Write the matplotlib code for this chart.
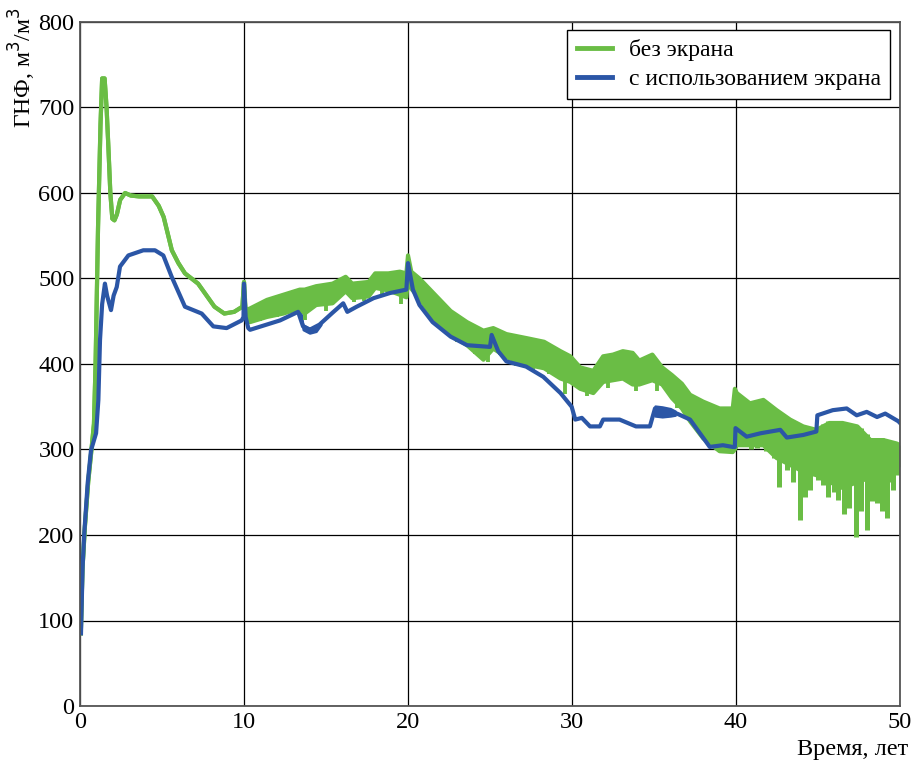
import matplotlib
matplotlib.use("Agg")
import matplotlib.pyplot as plt
from matplotlib.lines import Line2D

plt.rcParams['font.family'] = ['Liberation Serif', 'DejaVu Serif']

# --- Series without screen (green): upper / lower envelope of the oscillating curve ---
green_x = [0.05, 0.15, 0.3, 0.5, 0.7, 0.85, 0.95, 1.1, 1.25, 1.35, 1.5, 1.62, 1.73, 1.85, 1.97,
           2.1, 2.25, 2.45, 2.75, 3.1, 3.6, 4.4, 4.8, 5.1, 5.6, 6.0, 6.4, 7.2, 8.2, 8.8, 9.4,
           9.9, 10.0, 10.1, 10.37, 11.4, 12.4, 13.4, 13.7, 14.4, 15.4, 16.2, 16.6, 17.6, 18.0,
           18.8, 19.5, 19.9, 20.0, 20.2, 20.7, 21.5, 22.6, 23.6, 24.6, 25.2, 26.0, 27.3, 28.3,
           29.3, 29.9, 30.5, 31.3, 31.9, 32.5, 33.1, 33.7, 34.1, 34.9, 35.5, 36.1, 36.7, 37.2,
           38.0, 39.0, 39.8, 39.93, 40.05, 40.85, 41.67, 42.48, 43.3, 44.1, 44.9, 45.7, 46.5,
           47.4, 48.2, 49.0, 49.8, 50.0]
green_hi = [85, 160, 210, 262, 300, 330, 400, 560, 680, 734, 734, 700, 654, 600, 570,
            568, 575, 592, 600, 597, 596, 596, 585, 572, 533, 518, 506, 494, 467, 459, 461,
            467, 496, 463, 465, 475, 481, 487, 487, 491, 494, 502, 494, 496, 506,
            506, 508, 506, 527, 508, 500, 484, 462, 449, 439, 442, 435, 430, 426,
            415, 409, 396, 392, 409, 411, 415, 413, 404, 411, 396, 387, 377, 364,
            356, 348, 348, 371, 366, 354, 358, 346, 335, 327, 323, 331, 331,
            327, 311, 311, 307, 305]
green_lo = [85, 160, 210, 262, 300, 330, 400, 560, 680, 734, 734, 700, 654, 600, 570,
            568, 575, 592, 600, 597, 596, 596, 585, 572, 533, 518, 506, 494, 467, 459, 461,
            467, 496, 455, 449, 455, 459, 465, 459, 469, 471, 485, 477, 479, 489,
            486, 481, 478, 500, 488, 477, 455, 434, 422, 405, 418, 408, 399, 395,
            383, 379, 371, 366, 379, 381, 383, 376, 376, 381, 376, 360, 348, 333,
            313, 298, 297, 300, 305, 305, 305, 290, 282, 274, 270, 262, 255,
            262, 267, 270, 278, 280]

# short downward notches of the green curve (x, bottom, top)
notch_x = [11.0, 12.0, 13.7, 15.0, 16.7, 17.3, 18.4, 19.6, 21.8, 23.0, 24.1, 24.9, 25.6,
           26.6, 27.6, 28.6, 29.6, 30.9, 32.2, 33.9, 35.2, 36.4, 37.6]
notch_lo = [450, 455, 452, 462, 472, 474, 478, 470, 444, 426, 412, 402, 410,
            398, 392, 388, 365, 362, 372, 368, 368, 348, 322]
notch_hi = [470, 475, 480, 485, 488, 490, 500, 500, 470, 448, 435, 425, 430,
            425, 420, 415, 400, 385, 400, 405, 390, 372, 355]

# deep downward oscillations of the green curve after 40 years
spike_x = [40.4, 40.9, 41.3, 41.8, 42.3, 42.6, 43.1, 43.5, 43.9, 44.2, 44.5, 45.0, 45.3,
           45.6, 46.0, 46.2, 46.6, 46.9, 47.3, 47.6, 47.97, 48.3, 48.6, 48.9, 49.2, 49.4,
           49.6, 49.85]
spike_lo = [305, 300, 302, 298, 290, 256, 276, 262, 218, 245, 253, 264, 258,
            245, 250, 241, 225, 232, 198, 228, 206, 240, 237, 228, 220, 262,
            253, 270]
spike_hi = [360, 352, 356, 350, 345, 340, 335, 330, 328, 325, 322, 325, 330,
            333, 333, 333, 330, 330, 327, 325, 318, 313, 313, 313, 311, 310,
            309, 308]

# --- Series with screen (blue) ---
blue_x = [0.06, 0.16, 0.26, 0.47, 0.67, 0.98, 1.12, 1.22, 1.35, 1.52, 1.65, 1.89, 2.05,
          2.24, 2.44, 2.95, 3.86, 4.57, 5.08, 5.59, 6.4, 7.42, 8.13, 8.94, 9.86, 9.97,
          10.0, 10.1, 10.26, 10.37, 12.2, 13.3, 13.6, 14.0, 14.6, 15.4, 16.05, 16.3,
          16.87, 17.9, 18.9, 19.9, 20.0, 20.3, 20.7, 21.5, 22.6, 23.6, 25.0, 25.1, 25.5,
          26.0, 27.2, 28.25, 29.3, 29.98, 30.2, 30.6, 31.1, 31.7, 31.9, 32.9, 33.9, 34.75,
          35.06, 36.4, 37.2, 37.8, 38.4, 39.2, 39.8, 39.93, 39.97, 40.65, 41.5, 42.1, 42.7,
          43.1, 44.1, 44.9, 44.96, 45.9, 46.75, 47.36, 47.97, 48.6, 49.1, 49.9, 50.0]
blue_y = [85, 163, 202, 261, 299, 319, 358, 428, 470, 494, 480, 463, 480,
          490, 514, 527, 533, 533, 527, 502, 467, 459, 444, 442, 451, 455,
          494, 455, 442, 440, 451, 461, 444, 440, 446, 460, 471, 461,
          467, 477, 483, 487, 518, 487, 469, 449, 432, 422, 420, 434, 415,
          403, 397, 385, 366, 350, 335, 337, 327, 327, 335, 335, 327, 327,
          348, 342, 335, 319, 303, 305, 303, 303, 325, 315, 319, 321, 323,
          314, 317, 321, 340, 346, 348, 340, 344, 338, 342, 333, 331]

# noisy stretches of the blue curve
blue_band_x = [[13.45, 13.6, 14.0, 14.4, 14.7], [35.06, 35.5, 36.0, 36.3]]
blue_band_lo = [[458, 440, 436, 438, 446], [339, 338, 339, 340]]
blue_band_hi = [[462, 446, 442, 444, 448], [351, 350, 348, 345]]

x_ticks = [0, 10, 20, 30, 40, 50]
y_ticks = [0, 100, 200, 300, 400, 500, 600, 700, 800]
legend_labels = ["без экрана", "с использованием экрана"]

GREEN = "#6abd45"
BLUE = "#2b56a6"

fig = plt.figure(figsize=(9.13, 7.65), dpi=100)
ax = fig.add_axes([80 / 913, 59 / 765, 820 / 913, 684 / 765])

ax.set_xlim(0, 50)
ax.set_ylim(0, 800)
ax.set_xticks(x_ticks)
ax.set_yticks(y_ticks)
ax.grid(True, color="black", linewidth=0.9)
ax.set_axisbelow(True)
ax.tick_params(length=0, labelsize=17.5, pad=4)
for s in ax.spines.values():
    s.set_color("#555555")
    s.set_linewidth(1.3)

lw = 3.0
ax.fill_between(green_x, green_lo, green_hi, color=GREEN, linewidth=0)
ax.plot(green_x, green_hi, color=GREEN, lw=lw, solid_joinstyle="round")
ax.plot(green_x, green_lo, color=GREEN, lw=lw, solid_joinstyle="round")
ax.vlines(notch_x, notch_lo, notch_hi, color=GREEN, lw=2.8)
ax.vlines(spike_x, spike_lo, spike_hi, color=GREEN, lw=3.6)

for bx, blo, bhi in zip(blue_band_x, blue_band_lo, blue_band_hi):
    ax.fill_between(bx, blo, bhi, color=BLUE, linewidth=1.5, edgecolor=BLUE)
ax.plot(blue_x, blue_y, color=BLUE, lw=lw, solid_joinstyle="round")

handles = [Line2D([], [], color=GREEN, lw=3.5), Line2D([], [], color=BLUE, lw=3.5)]
leg = ax.legend(handles, legend_labels, loc="upper right",
                bbox_to_anchor=(810 / 820, 1 - 8 / 684), borderaxespad=0,
                fontsize=17, frameon=True, fancybox=False, handlelength=1.5,
                borderpad=0.4, labelspacing=0.3, handletextpad=0.7)
leg.get_frame().set_edgecolor("black")
leg.get_frame().set_linewidth(1.0)
leg.get_frame().set_alpha(1)

fig.text(22 / 913, 1 - 8 / 765, "ГНФ, м$^3$/м$^3$", rotation=90, ha="center", va="top",
         fontsize=17)
fig.text(908 / 913, 1 - 750 / 765, "Время, лет", ha="right", va="center", fontsize=17.5)

fig.savefig("out.png", dpi=100)
